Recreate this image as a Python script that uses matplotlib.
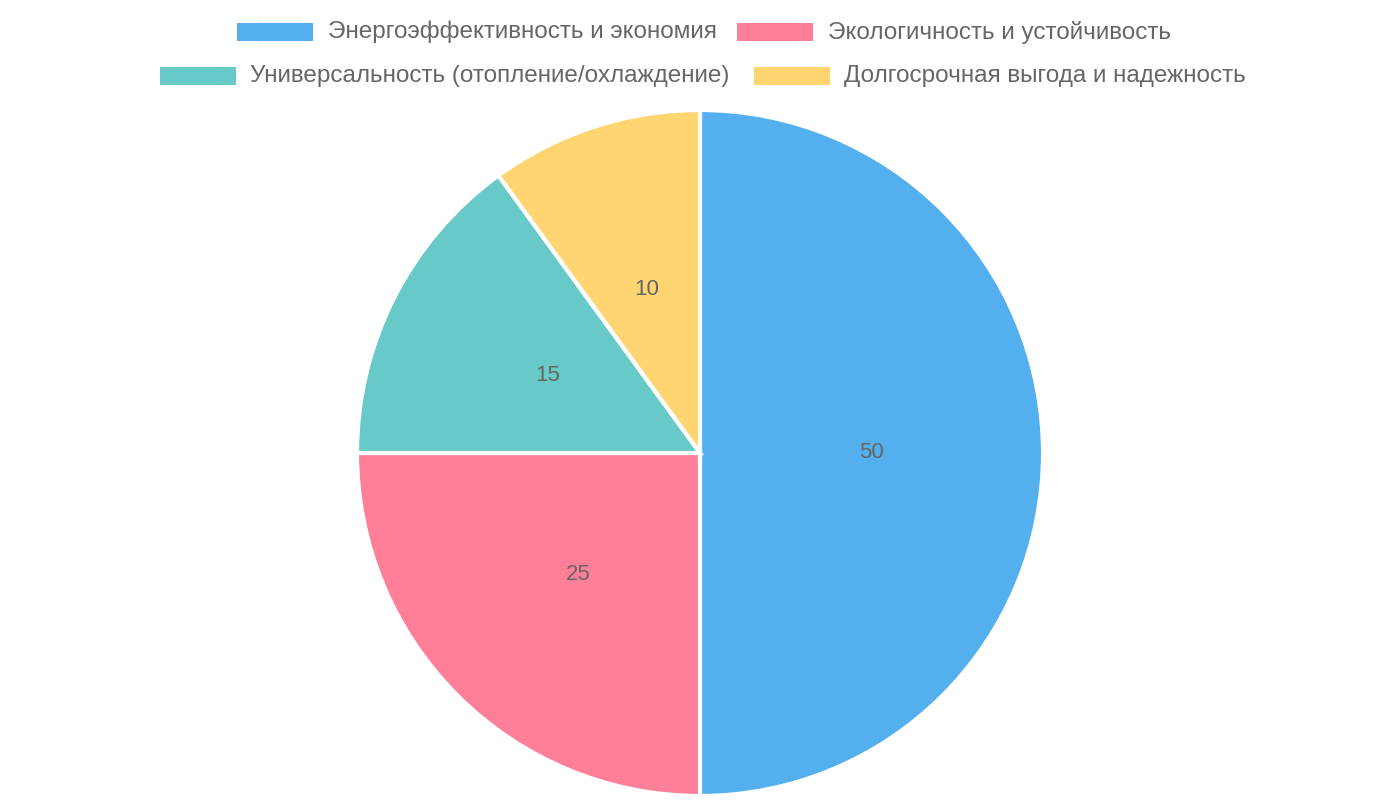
import matplotlib
matplotlib.use("Agg")
import matplotlib.pyplot as plt
from matplotlib.patches import Rectangle

labels = ["Энергоэффективность и экономия", "Экологичность и устойчивость",
          "Универсальность (отопление/охлаждение)", "Долгосрочная выгода и надежность"]
values = [50, 25, 15, 10]
colors = ["#54AFEE", "#FF7F98", "#68C9C9", "#FFD571"]

plt.rcParams['font.family'] = ['Liberation Sans', 'DejaVu Sans']
fig = plt.figure(figsize=(14, 8), dpi=100)
ax = fig.add_axes([357/1400, 4/800, 686/1400, 686/800])
wedges, texts = ax.pie(values, colors=colors, startangle=90, counterclock=False,
                       wedgeprops=dict(edgecolor="white", linewidth=3))
ax.set_xlim(-1, 1); ax.set_ylim(-1, 1); ax.set_aspect('equal')
import numpy as np
ang = 90.0
for v in values:
    mid = np.deg2rad(ang - v / sum(values) * 180)
    ax.text(0.5*np.cos(mid), 0.5*np.sin(mid), str(v), ha='center', va='center',
            fontsize=16, color='#666666')
    ang -= v / sum(values) * 360

pos = [(237, 32, 328), (737, 32, 828), (160, 76, 250), (754, 76, 844)]
for (bx, by, tx), lab, c in zip(pos, labels, colors):
    fig.patches.append(Rectangle((bx/1400, 1-(by+9)/800), 76/1400, 18/800,
                                 transform=fig.transFigure, facecolor=c, edgecolor='none'))
    fig.text(tx/1400, 1-by/800, lab, ha='left', va='center', fontsize=17.5, color='#666666')

fig.savefig("out.png", dpi=100, facecolor='white')
